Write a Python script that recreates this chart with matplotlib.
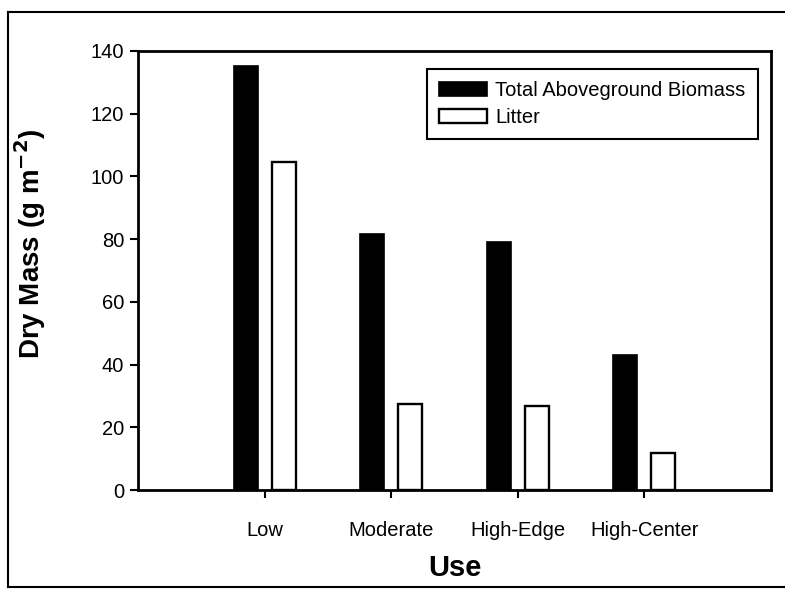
import matplotlib.pyplot as plt
import numpy as np
from matplotlib.lines import Line2D

# data
uses = ["Low", "Moderate", "High-Edge", "High-Center"]
total_biomass = [135, 81.5, 79, 43]
litter = [104.5, 27.5, 27, 12]
y_ticks = [0, 20, 40, 60, 80, 100, 120, 140]

plt.rcParams['font.family'] = ['Liberation Sans', 'DejaVu Sans']

fig = plt.figure(figsize=(7.85, 5.9), dpi=100)
ax = fig.add_axes([0.176, 0.169, 0.806, 0.745])

x = np.arange(1, len(uses) + 1)
w = 0.19
ax.bar(x - 0.15, total_biomass, w, color="black", edgecolor="black",
       linewidth=1.2, label="Total Aboveground Biomass")
ax.bar(x + 0.15, litter, w, color="white", edgecolor="black",
       linewidth=1.7, label="Litter")

ax.set_xlim(0, 5)
ax.set_ylim(0, 140)
ax.set_xticks(x)
ax.set_xticklabels(uses)
ax.set_yticks(y_ticks)
ax.tick_params(axis="both", direction="out", length=6, width=1.5,
               labelsize=14.5, pad=4)
ax.tick_params(axis="x", pad=16)
for sp in ax.spines.values():
    sp.set_linewidth(2)

ax.set_xlabel("Use", fontsize=21, fontweight="bold", labelpad=10)
ax.set_ylabel("Dry Mass (g m$^{\\mathbf{-2}}$)", fontsize=20, fontweight="bold")
ax.yaxis.set_label_coords(-0.142, 0.56)

leg = ax.legend(loc="upper right", bbox_to_anchor=(0.979, 0.959),
                fontsize=14.5, frameon=True, fancybox=False,
                handlelength=2.4, handleheight=0.7, labelspacing=0.4,
                borderpad=0.6, handletextpad=0.4, borderaxespad=0)
leg.get_frame().set_edgecolor("black")
leg.get_frame().set_linewidth(1.5)
leg.get_frame().set_alpha(1)

# scan border around the figure
W, H = 785.0, 590.0
x0, x1, y0, y1 = 8 / W, 1.01, 1 - 587 / H, 1 - 12 / H
fig.add_artist(Line2D([x0, x1], [y1, y1], color="black", lw=1.5))
fig.add_artist(Line2D([x0, x1], [y0, y0], color="black", lw=1.5))
fig.add_artist(Line2D([x0, x0], [y0, y1], color="black", lw=1.5))

fig.savefig("out.png", dpi=100)
